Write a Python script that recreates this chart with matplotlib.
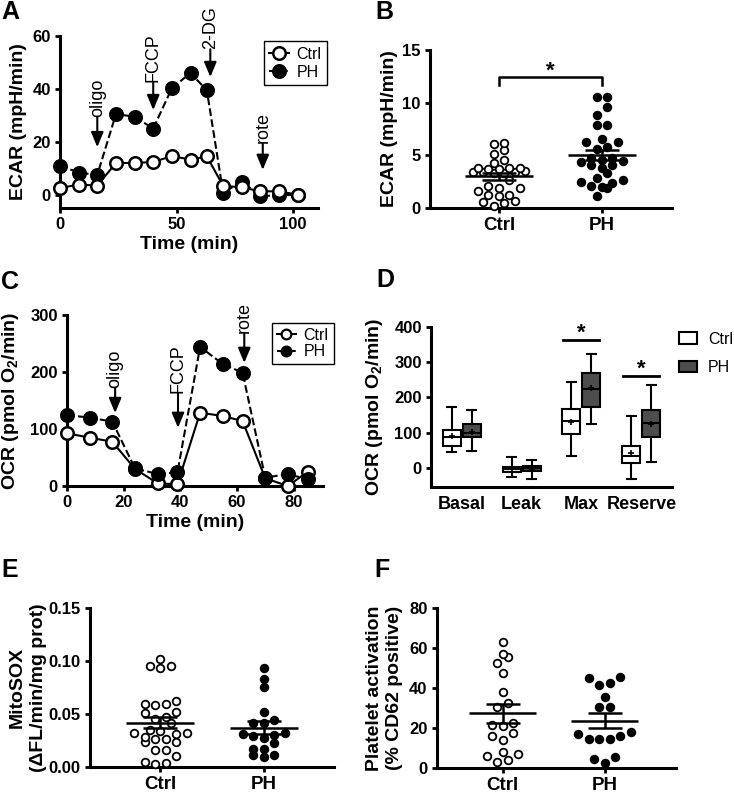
import numpy as np
import matplotlib.pyplot as plt
from matplotlib.lines import Line2D
from matplotlib.patches import Patch

plt.rcParams['font.family'] = ['Liberation Sans', 'DejaVu Sans']
plt.rcParams['font.weight'] = 'bold'
plt.rcParams['axes.labelweight'] = 'bold'
plt.rcParams['mathtext.default'] = 'regular'

### Data
# A: ECAR trace
ecar_time = [0, 8, 16, 24, 32, 40, 48, 56, 63, 70, 78, 86, 94, 102]
ecar_ctrl = [2.6, 3.8, 3.5, 12.0, 12.0, 12.4, 14.6, 13.3, 14.5, 3.4, 2.8, 1.3, 1.3, 0.0]
ecar_ph = [11.0, 8.4, 7.5, 30.5, 29.5, 25.0, 40.3, 46.0, 39.5, 0.8, 5.0, -0.5, -0.2, 0.0]
ecar_inject = ['oligo', 'FCCP', '2-DG', 'rote']
ecar_inject_time = [16, 40, 64.5, 87]

# B: basal ECAR per subject
groups = ['Ctrl', 'PH']
b_ctrl = [6.07, 6.16, 5.1, 5.5, 4.57, 4.25, 3.78, 3.68, 3.68, 3.78, 3.84, 3.46, 3.36, 3.46,
          3.36, 3.46, 3.52, 2.67, 1.94, 1.65, 1.87, 2.1, 1.14, 1.24, 1.24, 0.6, 0.5, 0.67, 0.19]
b_ph = [10.5, 10.5, 9.55, 8.8, 7.84, 7.84, 6.57, 6.22, 6.22, 5.78, 5.62, 4.79, 4.73, 4.57,
        4.5, 4.41, 4.1, 4.1, 3.78, 3.3, 2.83, 2.67, 2.5, 2.41, 2.1, 2.03, 1.87, 1.17]

# C: OCR trace
ocr_time = [0, 8, 16, 24, 32, 39, 47, 55, 62, 70, 78, 85]
ocr_ctrl = [92.5, 84.8, 77.7, 30, 4.7, 3, 128.6, 122.8, 114, 13.5, 0, 25]
ocr_ph = [124.6, 119.9, 112.9, 31, 21, 24, 244, 214, 198.8, 14.6, 21, 11.7]
ocr_inject = ['oligo', 'FCCP', 'rote']
ocr_inject_time = [17, 39.2, 62.6]

# D: OCR box plots  (whislo, q1, med, q3, whishi, mean)
d_cats = ['Basal', 'Leak', 'Max', 'Reserve']
d_ctrl = [[45, 64, 89, 108, 174, 90], [-26, -10, -3, 5, 33, -3],
          [36, 96, 134, 168, 245, 131], [-30, 14, 35, 64, 149, 42]]
d_ph = [[49, 89, 99, 124, 165, 103], [-31, -8, 0, 6.5, 23, -1],
        [125, 172, 224, 268, 323, 228], [17, 87, 129, 165, 235, 125]]

# E: MitoSOX
e_ctrl = [0.102, 0.095, 0.093, 0.095, 0.062, 0.059, 0.058, 0.059, 0.051, 0.052, 0.045, 0.047,
          0.041, 0.034, 0.032, 0.035, 0.031, 0.032, 0.026, 0.023, 0.028, 0.023, 0.026, 0.016,
          0.016, 0.010, 0.0047, 0.003, 0.0038]
e_ph = [0.093, 0.083, 0.075, 0.052, 0.041, 0.041, 0.044, 0.032, 0.030, 0.031, 0.027, 0.029,
        0.017, 0.022, 0.011, 0.009, 0.011, 0.017]

# F: platelet activation
f_ctrl = [63.3, 57, 55.8, 52.5, 47.8, 38, 30.8, 32.8, 21.7, 21.3, 22.8, 17.8, 14.2, 16.2,
          8, 6.2, 7, 3.3, 4.2]
f_ph = [45.5, 42.5, 41.7, 45, 35.5, 30.8, 30.8, 18, 16.3, 14.7, 14.7, 14.7, 17.2, 5.8, 2.8, 4.5]

W, H = 734, 794
fig = plt.figure(figsize=(W / 100, H / 100), dpi=100)


def make_ax(l, t, r, b):
    return fig.add_axes([l / W, 1 - b / H, (r - l) / W, (b - t) / H])


def prism(ax, xlim, ylim):
    ax.set_xlim(xlim)
    ax.set_ylim(ylim)
    ax.spines[['top', 'right']].set_visible(False)
    ax.spines[['left', 'bottom']].set_linewidth(2.2)
    ax.tick_params(width=2, length=3.6, labelsize=12, pad=3)


def letter(x, y, s):
    fig.text(x / W, 1 - y / H, s, fontsize=18, fontweight='bold', va='top', ha='left')


def inject(ax, t, label, tip, tail):
    ax.annotate('', xy=(t, tip), xytext=(t, tail),
                arrowprops=dict(arrowstyle='-|>,head_length=0.6,head_width=0.25', color='k',
                                lw=1.5, shrinkA=0, shrinkB=0, mutation_scale=15),
                annotation_clip=False)
    ax.text(t, tail, label, rotation=90, ha='center', va='bottom', fontsize=13,
            fontweight='normal', clip_on=False)


def rows(ax, x0, vals, h=8, step=10.5, cap=6):
    # prism-like scatter: bin sorted values into rows, lowest value in the middle
    tr = ax.transData
    px0 = tr.transform((x0, 0))[0]
    pys = [tr.transform((x0, v))[1] for v in vals]
    xs = [0.0] * len(vals)
    i = 0
    while i < len(vals):
        j = i
        while j < len(vals) and pys[j] - pys[i] < h:
            j += 1
        idx = list(range(i, j))
        half = (len(idx) + 1) // 2
        chunks = [idx] if len(idx) <= cap else [idx[:half], idx[half:]]
        for ch in chunks:
            n = len(ch)
            offs = [k - (n - 1) / 2 for k in range(n)]
            offs.sort(key=lambda o: (abs(o), o))
            for m, o in zip(ch, offs):
                xs[m] = tr.inverted().transform((px0 + o * step, pys[m]))[0]
        i = j
    return xs


def dots(ax, data, ms=5.5):
    for i, vals in enumerate(data):
        vals = np.sort(np.asarray(vals, float))
        xs = rows(ax, i, vals)
        face = 'white' if i == 0 else 'black'
        ax.plot(xs, vals, 'o', ms=ms, mfc=face, mec='k', mew=1.3, clip_on=False, zorder=3)
        m = vals.mean()
        se = vals.std(ddof=1) / np.sqrt(len(vals))
        ax.hlines(m, i - 0.33, i + 0.33, color='k', lw=1.8, zorder=4)
        ax.errorbar(i, m, yerr=se, fmt='none', ecolor='k', elinewidth=1.8, capsize=12,
                    capthick=1.8, zorder=4)
    ax.set_xticks(range(len(data)))
    ax.set_xticklabels(groups, fontsize=13.5)


### A
axA = make_ax(60, 36, 318, 208)
prism(axA, (0, 110.7), (-5, 60))
axA.plot(ecar_time, ecar_ph, '--', color='k', lw=1.5, marker='o', ms=9, mfc='k', mec='k',
         mew=1.8, clip_on=False, zorder=3, label='PH')
axA.plot(ecar_time, ecar_ctrl, '-', color='k', lw=1.5, marker='o', ms=9, mfc='white', mec='k',
         mew=1.8, clip_on=False, zorder=4, label='Ctrl')
axA.set_xticks([0, 50, 100])
axA.set_yticks([0, 20, 40, 60])
axA.set_xlabel('Time (min)', fontsize=14, labelpad=3)
axA.set_ylabel('ECAR (mpH/min)', fontsize=14)
axA.yaxis.set_label_coords(-0.129, 0.5)
for name, t, (tip, tail) in zip(ecar_inject, ecar_inject_time,
                                [(18, 29.4), (32, 42.6), (44.5, 55), (9.4, 19.6)]):
    inject(axA, t, name, tip, tail)
hA = [Line2D([], [], color='k', ls='-', marker='o', ms=9, mfc='white', mec='k', mew=1.8),
      Line2D([], [], color='k', ls='--', marker='o', ms=9, mfc='k', mec='k', mew=1.8)]
legA = axA.legend(hA, groups, loc='upper left', bbox_to_anchor=(0.79, 0.971), borderaxespad=0,
                  fancybox=False, edgecolor='k', framealpha=1, handlelength=1.2,
                  handletextpad=0.5, borderpad=0.35, labelspacing=0.2,
                  prop={'size': 11.5, 'weight': 'normal'})
legA.get_frame().set_linewidth(1.0)

### B
axB = make_ax(430, 50, 672, 208)
prism(axB, (-0.67, 1.68), (0, 15))
axB.set_yticks([0, 5, 10, 15])
dots(axB, [b_ctrl, b_ph])
axB.set_ylabel('ECAR (mpH/min)', fontsize=14)
axB.yaxis.set_label_coords(-0.132, 0.5)
axB.plot([0, 0, 1, 1], [11.7, 12.4, 12.4, 11.7], color='k', lw=1.8, clip_on=False)
axB.text(0.5, 12.45, '*', ha='center', va='baseline', fontsize=16, fontweight='bold')

### C
axC = make_ax(67, 315, 323, 486)
prism(axC, (0, 90.4), (0, 300))
axC.plot(ocr_time, ocr_ctrl, '-', color='k', lw=1.5, marker='o', ms=9, mfc='white', mec='k',
         mew=1.8, clip_on=False, zorder=3)
axC.plot(ocr_time, ocr_ph, '--', color='k', lw=1.5, marker='o', ms=9, mfc='k', mec='k',
         mew=1.8, clip_on=False, zorder=4)
axC.set_xticks([0, 20, 40, 60, 80])
axC.set_yticks([0, 100, 200, 300])
axC.set_xlabel('Time (min)', fontsize=14, labelpad=3)
axC.set_ylabel('OCR (pmol O$_2$/min)', fontsize=14)
axC.yaxis.set_label_coords(-0.181, 0.5)
for name, t, (tip, tail) in zip(ocr_inject, ocr_inject_time,
                                [(128, 172), (102, 163), (216, 268)]):
    inject(axC, t, name, tip, tail)
hC = [Line2D([], [], color='k', ls='-', marker='o', ms=7, mfc='white', mec='k', mew=1.6),
      Line2D([], [], color='k', ls='--', marker='o', ms=7, mfc='k', mec='k', mew=1.6)]
legC = axC.legend(hC, groups, loc='upper left', bbox_to_anchor=(0.8, 0.953), borderaxespad=0,
                  fancybox=False, edgecolor='k', framealpha=1, handlelength=1.2,
                  handletextpad=0.5, borderpad=0.3, labelspacing=0.1,
                  prop={'size': 11.5, 'weight': 'normal'})
legC.get_frame().set_linewidth(1.0)

### D
axD = make_ax(431, 326.7, 672, 486.7)
prism(axD, (-0.51, 3.51), (-52, 400))
axD.set_yticks([0, 100, 200, 300, 400])
ph_grey = '#4d4d4d'
for vals, off, col in [(d_ctrl, -0.167, 'white'), (d_ph, 0.167, ph_grey)]:
    stats = [dict(whislo=v[0], q1=v[1], med=v[2], q3=v[3], whishi=v[4], mean=v[5], fliers=[])
             for v in vals]
    pos = [i + off for i in range(len(vals))]
    axD.bxp(stats, positions=pos, widths=0.3, patch_artist=True, showmeans=True,
            boxprops=dict(facecolor=col, edgecolor='k', linewidth=1.5),
            medianprops=dict(color='k', linewidth=1.5),
            whiskerprops=dict(color='k', linewidth=1.5),
            capprops=dict(color='k', linewidth=1.5),
            meanprops=dict(marker='+', markeredgecolor='k', markersize=4, markeredgewidth=1.2),
            manage_ticks=False)
axD.set_xticks(range(len(d_cats)))
axD.set_xticklabels(d_cats, fontsize=13)
axD.tick_params(axis='x', length=0, pad=7)
axD.set_ylabel('OCR (pmol O$_2$/min)', fontsize=14)
axD.yaxis.set_label_coords(-0.191, 0.5)
for xc, yl in [(2, 362), (3, 261)]:
    axD.plot([xc - 0.3, xc + 0.3], [yl, yl], color='k', lw=2, clip_on=False)
    axD.text(xc, yl + 3, '*', ha='center', va='baseline', fontsize=16, fontweight='bold')
hD = [Patch(facecolor='white', edgecolor='k', linewidth=1.5),
      Patch(facecolor=ph_grey, edgecolor='k', linewidth=1.5)]
axD.legend(hD, groups, loc='upper left', bbox_to_anchor=(1.03, 0.97), borderaxespad=0,
           frameon=False, handlelength=1.1, handleheight=0.75, handletextpad=0.7,
           borderpad=0, labelspacing=0.85, prop={'size': 11.5, 'weight': 'normal'})

### E
axE = make_ax(90, 607.7, 334, 766.7)
prism(axE, (-0.68, 1.68), (0, 0.15))
axE.set_yticks([0, 0.05, 0.10, 0.15])
axE.yaxis.set_major_formatter(plt.FormatStrFormatter('%.2f'))
dots(axE, [e_ctrl, e_ph])
axE.set_ylabel('MitoSOX\n(\u0394FL/min/mg prot)', fontsize=14, linespacing=1.3)
axE.yaxis.set_label_coords(-0.176, 0.5)

### F
axF = make_ax(436.7, 608.3, 676, 768.3)
prism(axF, (-0.645, 1.7), (0, 80))
axF.set_yticks([0, 20, 40, 60, 80])
dots(axF, [f_ctrl, f_ph])
axF.set_ylabel('Platelet activation\n(% CD62 positive)', fontsize=14, linespacing=1.3)
axF.yaxis.set_label_coords(-0.139, 0.5)

letter(1, 0, 'A')
letter(375, 0, 'B')
letter(1, 270, 'C')
letter(376, 268, 'D')
letter(1, 558, 'E')
letter(374, 558, 'F')

plt.savefig('out.png', dpi=100)
